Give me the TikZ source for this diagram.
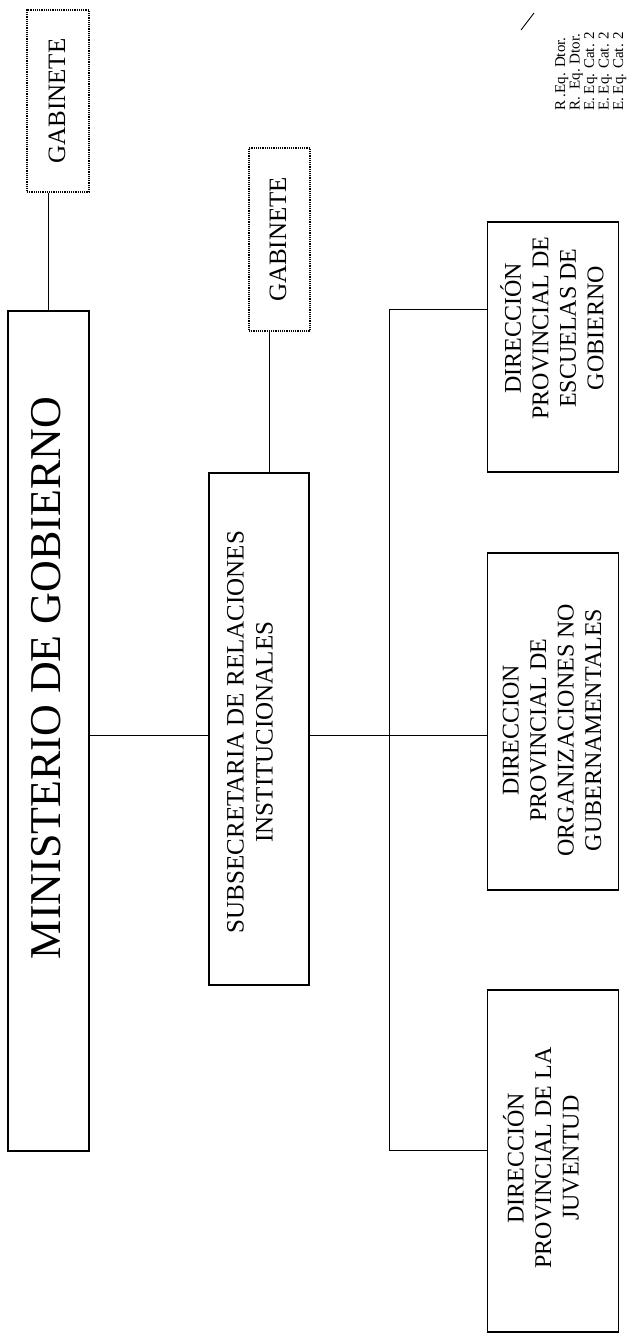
\documentclass[tikz,border=0pt]{standalone}
\usepackage{fontspec}
\setmainfont{Liberation Serif}
\begin{document}
\begin{tikzpicture}[x=1pt,y=-1pt,
  orgbox/.style={draw, line width=1.1pt, inner sep=0pt},
  gabbox/.style={draw, densely dotted, line width=1.2pt, inner sep=0pt},
  txt/.style={rotate=90, align=center, inner sep=0pt, font=\fontsize{24}{27.5}\selectfont},
  conn/.style={line width=0.9pt}]
\useasboundingbox (0,0) rectangle (630,1343);
% boxes
\node[gabbox, minimum width=62pt, minimum height=182pt] (gab1) at (58,101) {};
\node[orgbox, minimum width=81pt, minimum height=840pt] (min) at (48.5,731) {};
\node[gabbox, minimum width=61pt, minimum height=183pt] (gab2) at (279.5,239.5) {};
\node[orgbox, minimum width=100pt, minimum height=512pt] (sub) at (259,729) {};
\node[orgbox, minimum width=131pt, minimum height=250pt] (esc) at (553,347) {};
\node[orgbox, minimum width=131pt, minimum height=337pt] (ong) at (553,721.5) {};
\node[orgbox, minimum width=131pt, minimum height=342pt] (juv) at (553,1161) {};
% texts
\node[txt, font=\fontsize{25}{29}\selectfont] (gab1t) at (57,101) {GABINETE};
\node[txt, font=\fontsize{25}{29}\selectfont] (gab2t) at (278,239.5) {GABINETE};
\node[txt, font=\fontsize{44}{50}\selectfont] (mint) at (46,678) {MINISTERIO DE GOBIERNO};
\node[txt, font=\fontsize{25}{29}\selectfont] (subt) at (250,732) {SUBSECRETARIA DE RELACIONES\\INSTITUCIONALES};
\node[txt] (esct) at (552,328) {DIRECCIÓN\\PROVINCIAL DE\\ESCUELAS DE\\GOBIERNO};
\node[txt] (ongt) at (552,730) {DIRECCION\\PROVINCIAL DE\\ORGANIZACIONES NO\\GUBERNAMENTALES};
\node[txt] (juvt) at (541,1158) {DIRECCIÓN\\PROVINCIAL DE LA\\JUVENTUD};
\node[rotate=90, anchor=north west, align=left, inner sep=0pt,
      font=\fontsize{15}{14.5}\selectfont] (dtor) at (555,111)
      {R .Eq. Dtor.\\R.\ \ Eq. Dtor.\\E. Eq. Cat. 2\\E. Eq. Cat. 2\\E. Eq. Cat. 2};
% connectors
\coordinate (hl) at (0,735);
\coordinate (b1) at (389,309);
\coordinate (b3) at (389,1150);
\coordinate (g2c) at (269,0);
\draw[conn] (min.north) -- (min.north |- gab1.south);
\draw[conn] (g2c |- gab2.south) -- (g2c |- sub.north);
\draw[conn] (min.east |- hl) -- (sub.west |- hl);
\draw[conn] (sub.east |- hl) -- (ong.west |- hl);
\draw[conn] (esc.west |- b1) -- (b1) -- (b3) -- (juv.west |- b3);
% stray mark
\coordinate (m1) at (521,30);
\coordinate (m2) at (534,13);
\draw[line width=0.9pt] (m1) -- (m2);
\end{tikzpicture}
\end{document}
